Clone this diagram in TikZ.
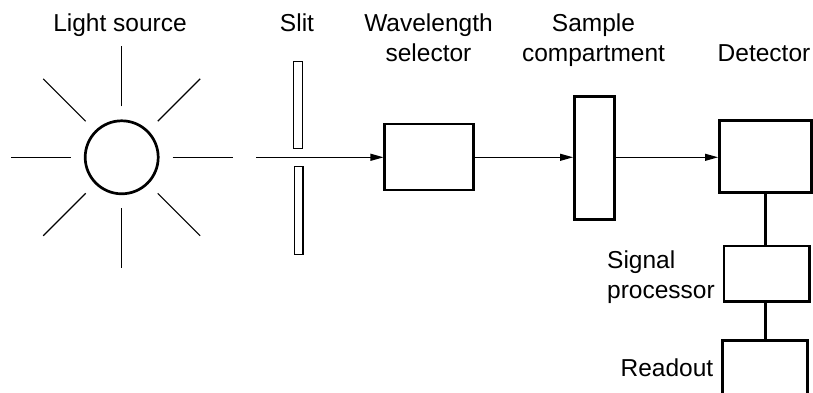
\documentclass[tikz,border=0pt]{standalone}
\usepackage{fontspec}
\setmainfont{Liberation Sans}
\usetikzlibrary{arrows.meta}
\begin{document}
\begin{tikzpicture}[x=1pt,y=-1pt,
  lbl/.style={font=\fontsize{24.5}{30}\selectfont, inner sep=0pt, align=center},
  blk/.style={draw, line width=2.5pt, inner sep=0pt, rectangle},
  slitbar/.style={draw, line width=1.3pt, inner sep=0pt, rectangle, minimum width=8.5pt, minimum height=87pt},
  ray/.style={line width=1.2pt},
  beam/.style={line width=1.2pt, -{Triangle[length=13pt,width=7pt]}},
  wire/.style={line width=2.5pt}]
\useasboundingbox (0,0) rectangle (813,393);
\clip (0,0) rectangle (813,393);
% light source
\node[draw, circle, line width=2.7pt, minimum size=73pt, inner sep=0pt] (src) at (121.7,157.3) {};
\foreach \a in {0,45,...,315}
  \draw[ray, shift={(src.center)}] (\a:51) -- (\a:111);
% slit
\node[slitbar] (slitA) at (298,105.2) {};
\node[slitbar, minimum height=88pt] (slitB) at (298.6,210.8) {};
\coordinate (in) at (256,157.3);
% blocks
\node[blk, minimum width=88.6pt, minimum height=66pt] (wav) at (429,156.8) {};
\node[blk, minimum width=40pt, minimum height=122.6pt] (smp) at (594.3,158) {};
\node[blk, minimum width=92pt, minimum height=72pt] (det) at (765.3,156.7) {};
\node[blk, minimum width=85.3pt, minimum height=55.7pt] (sig) at (766.7,273.8) {};
\node[blk, minimum width=85pt, minimum height=80pt] (rdo) at (765.2,380.7) {};
% beam
\draw[beam] (in) -- (in -| wav.west);
\draw[beam] (wav.east |- in) -- (in -| smp.west);
\draw[beam] (smp.east |- in) -- (in -| det.west);
% wiring
\draw[wire] (det.south) -- (det.south |- sig.north);
\draw[wire] (det.south |- sig.south) -- (det.south |- rdo.north);
% labels (base of a multi-line node is its last line)
\node[lbl, anchor=base] (tsrc) at (120,31.7) {Light source};
\node[lbl, anchor=base] (tslit) at (297,31.7) {Slit};
\node[lbl, anchor=base] (twav) at (428.5,61.7) {Wavelength\\selector};
\node[lbl, anchor=base] (tsmp) at (593.5,61.7) {Sample\\compartment};
\node[lbl, anchor=base] (tdet) at (764,61.7) {Detector};
\node[lbl, anchor=base west, align=left] (tsig) at (607,298) {Signal\\processor};
\node[lbl, anchor=base east] (trdo) at (713.5,376) {Readout};
\end{tikzpicture}
\end{document}
